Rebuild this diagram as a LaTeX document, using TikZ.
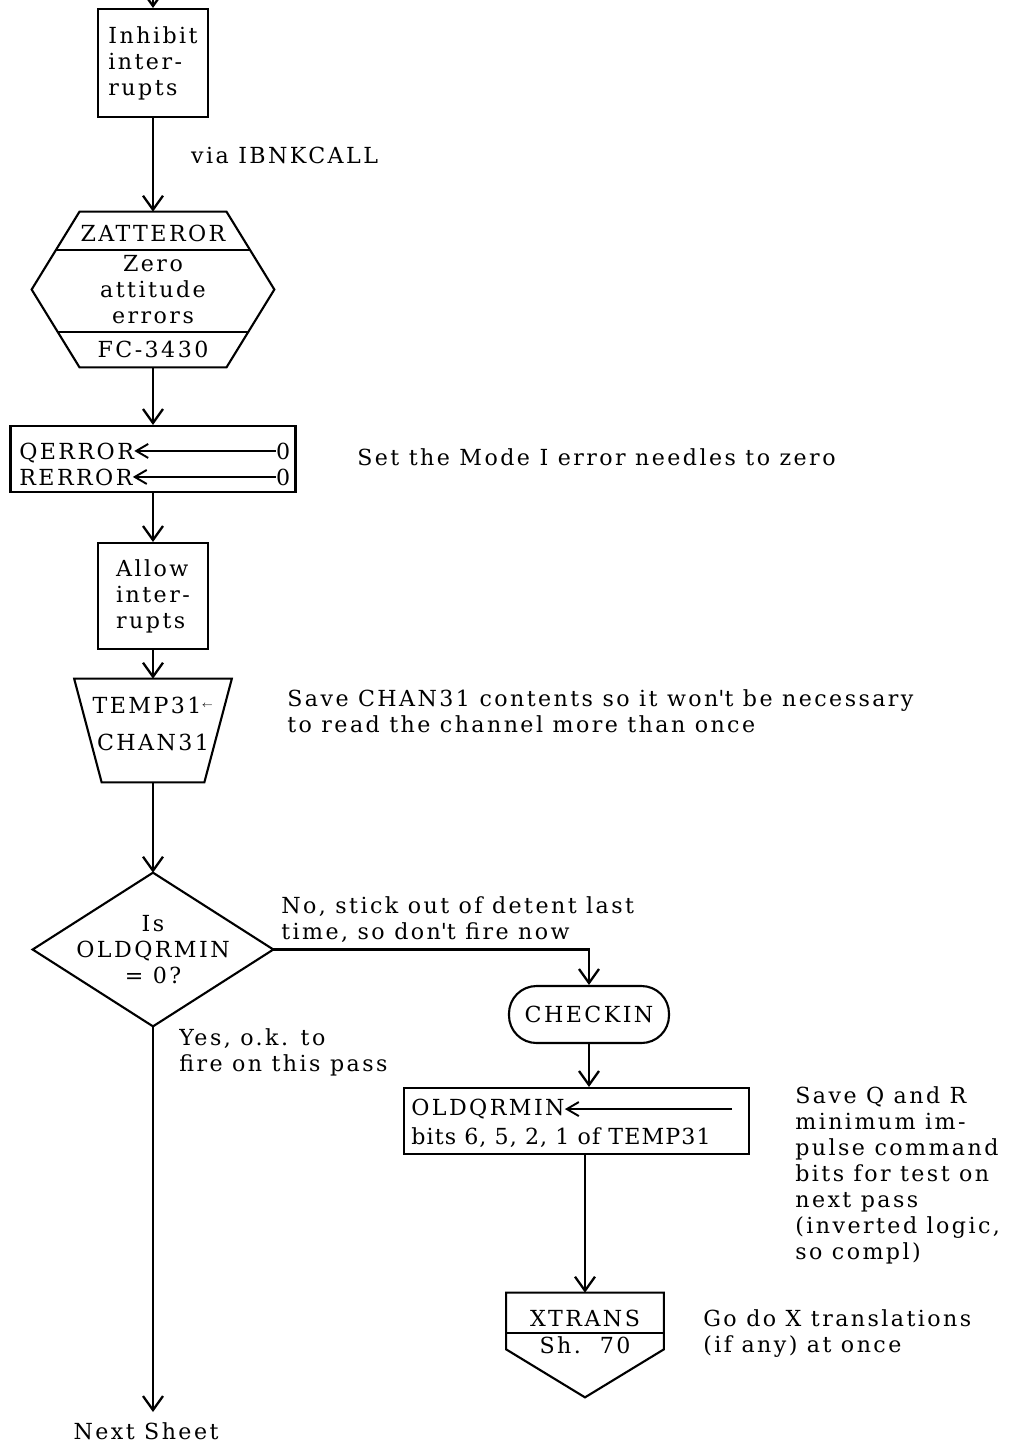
\documentclass[tikz,border=0pt]{standalone}
\usepackage{fontspec}
\setmainfont{DejaVu Serif}[LetterSpace=11]
\usetikzlibrary{arrows.meta,positioning}

\tikzset{
  outline/.style={draw, line width=1.2pt},
  procbox/.style={outline, align=left, inner sep=0pt},
  shapebox/.style={inner sep=0pt, align=center},
  flow/.style={line width=1.3pt, -{Straight Barb[length=2.8mm,width=4mm]}},
  setarrow/.style={line width=1.1pt, -{Straight Barb[length=2.4mm,width=2.8mm]}},
  note/.style={anchor=west, align=left, inner sep=0pt},
  rowtext/.style={inner sep=0pt},
}

\begin{document}
\begin{tikzpicture}[every node/.style={font=\fontsize{12.6}{14.8}\selectfont}]
  \useasboundingbox (0,0) rectangle (20.26,-28.94);

  % main column
  \coordinate (entry) at (3.06,0.3);
  \node (inhib) [procbox, minimum width=2.2cm, minimum height=2.16cm] at (3.06,-1.26) {Inhibit\\inter-\\rupts};

  % zero attitude errors (hexagon with title and ref bands)
  \node (zat) [shapebox, minimum width=4.84cm, minimum height=3.1cm] at (3.06,-5.79) {Zero\\attitude\\errors};
  \draw[outline] ([xshift=-1.47cm]zat.north) -- ([xshift=1.47cm]zat.north) -- (zat.east)
    -- ([xshift=1.47cm]zat.south) -- ([xshift=-1.47cm]zat.south) -- (zat.west) -- cycle;
  \draw[outline] ([shift={(-1.94,0.79)}]zat.center) -- ([shift={(1.94,0.79)}]zat.center);
  \draw[outline] ([shift={(-1.9,-0.85)}]zat.center) -- ([shift={(1.9,-0.85)}]zat.center);
  \node (zatname) at ([yshift=1.13cm]zat.center) {ZATTEROR};
  \node (zatref) at ([yshift=-1.19cm]zat.center) {FC-3430};

  % needles set to zero
  \node (qbox) [outline, minimum width=5.7cm, minimum height=1.32cm] at (3.06,-9.18) {};
  \node (qerr) [rowtext, anchor=base west] at ([xshift=0.19cm]qbox.west) {QERROR};
  \node (rerr) [rowtext, anchor=base west] at ([shift={(0.19,-0.52)}]qbox.west) {RERROR};
  \node (qzero) [rowtext, anchor=base east] at ([xshift=-0.12cm]qbox.east) {0};
  \node (rzero) [rowtext, anchor=base east] at ([shift={(-0.12,-0.52)}]qbox.east) {0};
  \draw[setarrow] (qzero.west) -- (qzero.west -| qerr.east);
  \draw[setarrow] (rzero.west) -- (rzero.west -| rerr.east);

  \node (allow) [procbox, minimum width=2.2cm, minimum height=2.12cm] at (3.06,-11.92) {Allow\\inter-\\rupts};

  % channel read (trapezoid)
  \node (tmp) [shapebox, minimum width=3.14cm, minimum height=2.06cm] at (3.06,-14.61) {};
  \draw[outline] (tmp.north west) -- (tmp.north east) -- ([xshift=-0.55cm]tmp.south east)
    -- ([xshift=0.55cm]tmp.south west) -- cycle;
  \node (tmpdst) at ([yshift=0.51cm]tmp.center) {TEMP31\raisebox{3pt}{\tiny$\leftarrow$}};
  \node (tmpsrc) at ([yshift=-0.23cm]tmp.center) {CHAN31};

  % decision
  \node (dia) [shapebox, minimum width=4.8cm, minimum height=3.06cm] at (3.06,-18.99) {Is\\OLDQRMIN\\= 0?};
  \draw[outline] (dia.north) -- (dia.east) -- (dia.south) -- (dia.west) -- cycle;

  % right branch
  \node (chk) [outline, rounded corners=0.55cm, minimum width=3.2cm, minimum height=1.14cm] at (11.78,-20.29) {CHECKIN};
  \node (obox) [outline, minimum width=6.9cm, minimum height=1.32cm] at (11.53,-22.42) {};
  \node (omin) [rowtext, anchor=base west] at ([shift={(0.16,0.11)}]obox.west) {OLDQRMIN};
  \node (obits) [rowtext, anchor=base west] at ([shift={(0.16,-0.47)}]obox.west)
    {\addfontfeature{LetterSpace=5}bits 6, 5, 2, 1 of TEMP31};
  \path (omin.center -| obox.east) ++(-0.36,0) coordinate (osrc);
  \draw[setarrow] (osrc) -- (osrc -| omin.east);

  % off-page connector
  \node (xtr) [shapebox, minimum width=3.14cm, minimum height=2.08cm] at (11.7,-26.9) {};
  \draw[outline] (xtr.north west) -- (xtr.north east) -- ([yshift=0.96cm]xtr.south east)
    -- (xtr.south) -- ([yshift=0.96cm]xtr.south west) -- cycle;
  \draw[outline] ([yshift=1.28cm]xtr.south west) -- ([yshift=1.28cm]xtr.south east);
  \node (xname) at ([yshift=0.54cm]xtr.center) {XTRANS};
  \node (xsheet) at (xtr.center) {Sh.\ \ 70};

  \node (next) [anchor=north, inner sep=6pt] at (2.92,-28.24) {Next Sheet};

  % connectors
  \draw[flow] (entry) -- (inhib.north);
  \draw[flow] (inhib.south) -- (zat.north)
    node (via) [pos=0.4, anchor=west, inner sep=0pt, xshift=0.74cm] {via IBNKCALL};
  \draw[flow] (zat.south) -- (qbox.north);
  \draw[flow] (qbox.south) -- (allow.north);
  \draw[flow] (allow.south) -- (tmp.north);
  \draw[flow] (tmp.south) -- (dia.north);
  \draw[flow] (dia.east) -| (chk.north);
  \draw[flow] (chk.south) -- (chk.south |- obox.north);
  \draw[flow] (obox.south -| xtr.north) -- (xtr.north);
  \draw[flow] (dia.south) -- (dia.south |- next.north);

  % comments beside the flow
  \node (setnote) [note] at (7.14,-9.14) {Set the Mode I error needles to zero};
  \node (savenote) [note] at (5.74,-14.22) {Save CHAN31 contents so it won\textquotesingle t be necessary\\to read the channel more than once};
  \node (nonote) [note] at (5.62,-18.4) {No, stick out of detent last\\time, so don\textquotesingle t fire now};
  \node (yesnote) [note] at (3.58,-21.04) {Yes, o.k. to\\fire on this pass};
  \node (minnote) [note] at (15.9,-23.51) {Save Q and R\\minimum im-\\pulse command\\bits for test on\\next pass\\(inverted logic,\\so compl)};
  \node (gonote) [note] at (14.06,-26.68) {Go do X translations\\(if any) at once};
\end{tikzpicture}
\end{document}
